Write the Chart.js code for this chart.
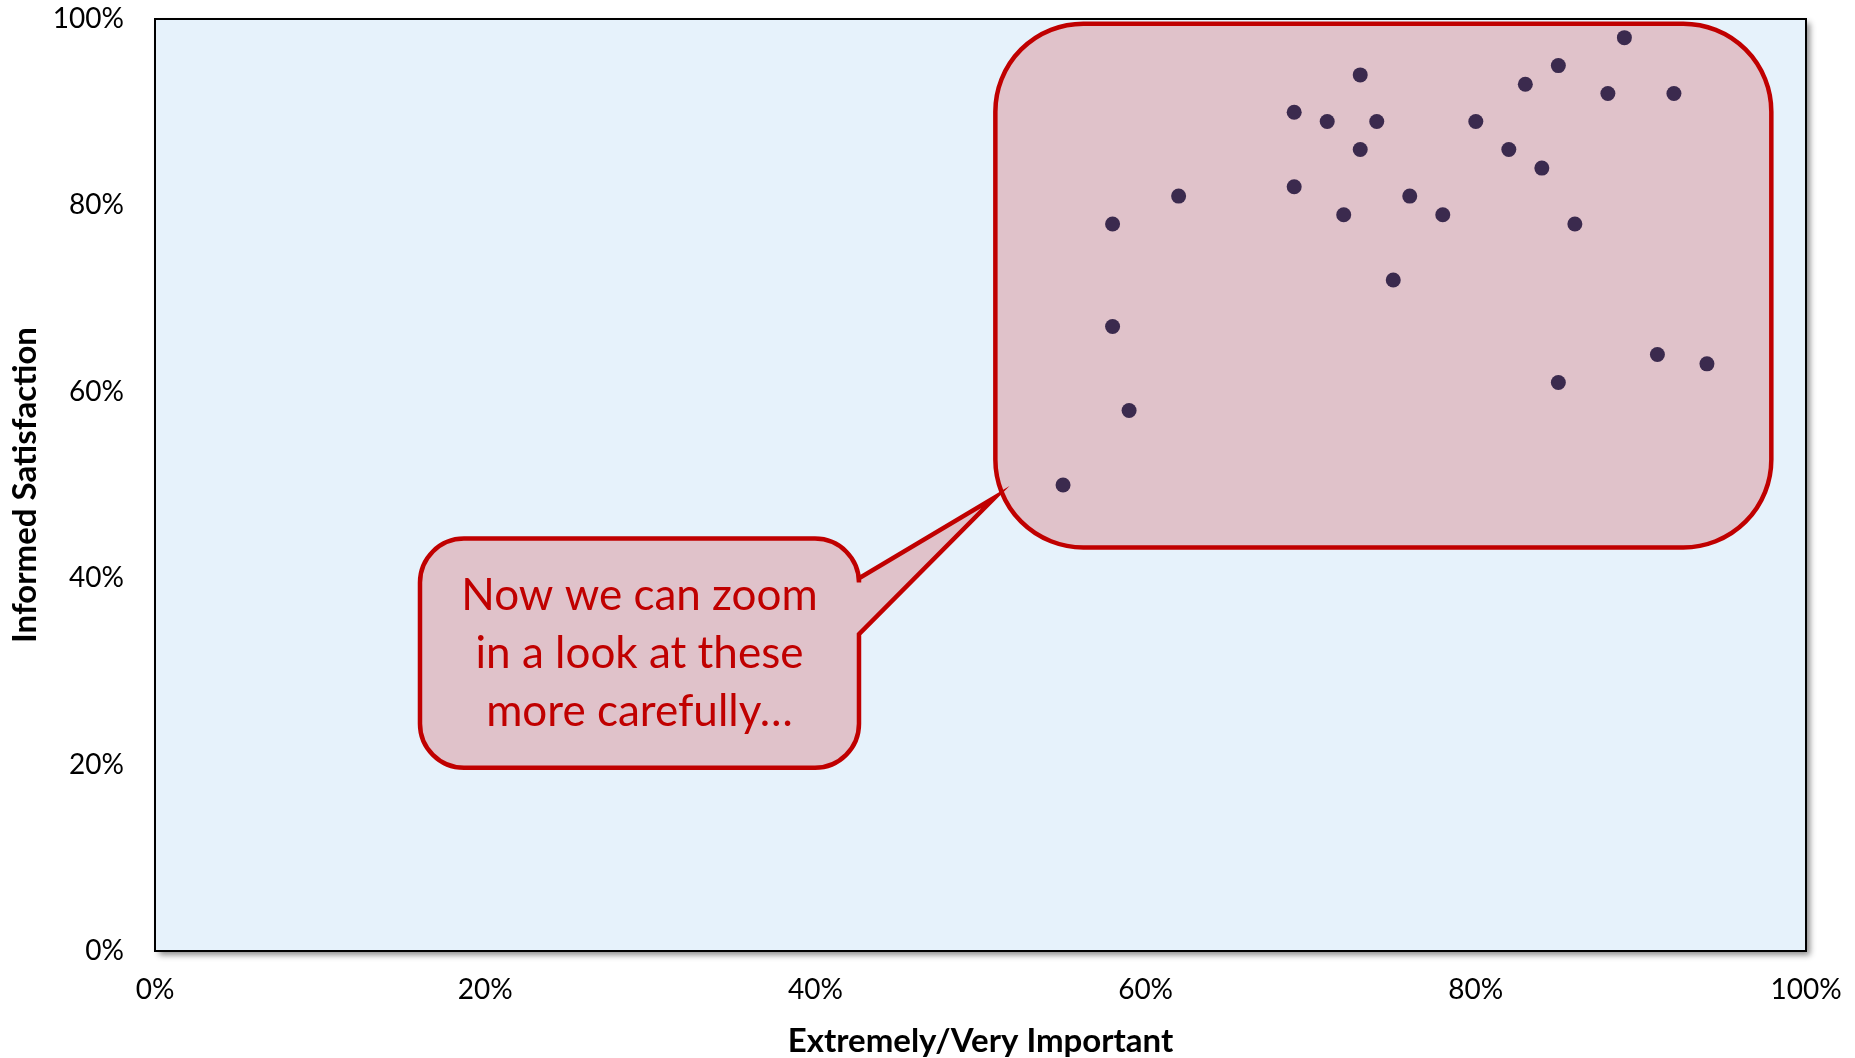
<!DOCTYPE html>
<html>
<head>
<meta charset="utf-8">
<script src="https://cdn.jsdelivr.net/npm/chart.js@4.4.0/dist/chart.umd.min.js"></script>
<style>
  html, body { margin: 0; padding: 0; background: #ffffff; }
  #wrap { width: 1855px; height: 1058px; }
</style>
</head>
<body>
<div id="wrap"><canvas id="chart" width="1855" height="1058"></canvas></div>
<script>
// values (percent)
const importance = [55, 58, 58, 59, 62, 69, 69, 71, 72, 73, 73, 74, 75, 76, 78, 80, 82, 83, 84, 85, 85, 86, 88, 89, 91, 92, 94];
const satisfaction = [50, 78, 67, 58, 81, 90, 82, 89, 79, 94, 86, 89, 72, 81, 79, 89, 86, 93, 84, 95, 61, 78, 92, 98, 64, 92, 63];
const xTicks = [0, 20, 40, 60, 80, 100];
const yTicks = [0, 20, 40, 60, 80, 100];
const calloutLines = ['Now we can zoom', 'in a look at these', 'more carefully\u2026'];

const FONT = 'Lato, "Open Sans", sans-serif';
const RED = '#c00000';
const PINK = '#e0c2ca';

// callout geometry, in axis units
const bigBox = { x0: 50.9, x1: 97.9, y0: 43.3, y1: 99.5, r: 88 };
const smallBox = { x0: 16.05, x1: 42.64, y0: 19.66, y1: 44.25, r: 44 };
const pointer = { top: 40.0, bottom: 34.0, tipX: 50.9, tipY: 48.7 };

const points = importance.map((x, i) => ({ x: x, y: satisfaction[i] }));

function roundRect(ctx, x0, y0, x1, y1, r) {
    ctx.moveTo(x0 + r, y0);
    ctx.lineTo(x1 - r, y0);
    ctx.arcTo(x1, y0, x1, y0 + r, r);
    ctx.lineTo(x1, y1 - r);
    ctx.arcTo(x1, y1, x1 - r, y1, r);
    ctx.lineTo(x0 + r, y1);
    ctx.arcTo(x0, y1, x0, y1 - r, r);
    ctx.lineTo(x0, y0 + r);
    ctx.arcTo(x0, y0, x0 + r, y0, r);
    ctx.closePath();
}

// keep the plot box where the layout padding puts it
function noLabelPadding(scale) {
    scale.paddingTop = 0;
    scale.paddingBottom = 0;
    scale.paddingLeft = 0;
    scale.paddingRight = 0;
}

const plotFrame = {
    id: 'plotFrame',
    beforeDatasetsDraw(chart) {
        const { ctx, chartArea: a, scales: { x, y } } = chart;
        ctx.save();
        // panel with shadow
        ctx.shadowColor = 'rgba(0,0,0,0.45)';
        ctx.shadowBlur = 6;
        ctx.shadowOffsetX = 4;
        ctx.shadowOffsetY = 4;
        ctx.fillStyle = '#e6f2fb';
        ctx.fillRect(a.left, a.top, a.right - a.left, a.bottom - a.top);
        ctx.restore();

        ctx.save();
        ctx.lineWidth = 2;
        ctx.strokeStyle = '#000000';
        ctx.strokeRect(a.left, a.top, a.right - a.left, a.bottom - a.top);

        // big highlight box
        ctx.beginPath();
        roundRect(ctx, x.getPixelForValue(bigBox.x0), y.getPixelForValue(bigBox.y1),
            x.getPixelForValue(bigBox.x1), y.getPixelForValue(bigBox.y0), bigBox.r);
        ctx.fillStyle = PINK;
        ctx.fill();
        ctx.lineWidth = 4.5;
        ctx.strokeStyle = RED;
        ctx.stroke();

        // speech bubble
        const sx0 = x.getPixelForValue(smallBox.x0), sx1 = x.getPixelForValue(smallBox.x1);
        const sy0 = y.getPixelForValue(smallBox.y1), sy1 = y.getPixelForValue(smallBox.y0);
        const r = smallBox.r;
        const pTop = y.getPixelForValue(pointer.top), pBot = y.getPixelForValue(pointer.bottom);
        ctx.beginPath();
        ctx.moveTo(sx0 + r, sy0);
        ctx.lineTo(sx1 - r, sy0);
        ctx.arcTo(sx1, sy0, sx1, sy0 + r, r);
        ctx.lineTo(sx1, pTop);
        ctx.lineTo(x.getPixelForValue(pointer.tipX), y.getPixelForValue(pointer.tipY));
        ctx.lineTo(sx1, pBot);
        ctx.lineTo(sx1, sy1 - r);
        ctx.arcTo(sx1, sy1, sx1 - r, sy1, r);
        ctx.lineTo(sx0 + r, sy1);
        ctx.arcTo(sx0, sy1, sx0, sy1 - r, r);
        ctx.lineTo(sx0, sy0 + r);
        ctx.arcTo(sx0, sy0, sx0 + r, sy0, r);
        ctx.closePath();
        ctx.fillStyle = PINK;
        ctx.fill();
        ctx.lineJoin = 'miter';
        ctx.lineWidth = 4.5;
        ctx.strokeStyle = RED;
        ctx.stroke();

        ctx.fillStyle = RED;
        ctx.font = '44px ' + FONT;
        ctx.textAlign = 'center';
        ctx.textBaseline = 'middle';
        const cx = (sx0 + sx1) / 2;
        const lineH = 58;
        const cy = (sy0 + sy1) / 2 - lineH + 1;
        calloutLines.forEach((t, i) => ctx.fillText(t, cx, cy + i * lineH));
        ctx.restore();
    }
};

new Chart(document.getElementById('chart').getContext('2d'), {
    type: 'scatter',
    data: {
        datasets: [{
            data: points,
            backgroundColor: '#3b2a4e',
            borderColor: '#3b2a4e',
            borderWidth: 0,
            pointRadius: 7.5,
            pointHoverRadius: 7.5
        }]
    },
    options: {
        responsive: false,
        animation: false,
        layout: { padding: { top: 19, right: 49, left: 0, bottom: 0 } },
        plugins: { legend: { display: false }, tooltip: { enabled: false } },
        scales: {
            x: {
                type: 'linear',
                min: 0,
                max: 100,
                afterFit(scale) { scale.height = 107; noLabelPadding(scale); },
                afterBuildTicks(scale) { scale.ticks = xTicks.map(v => ({ value: v })); },
                grid: { display: false, drawTicks: false },
                border: { display: false },
                ticks: {
                    padding: 22,
                    color: '#000000',
                    font: { family: FONT, size: 28 },
                    callback: v => v + '%'
                },
                title: {
                    display: true,
                    text: 'Extremely/Very Important',
                    color: '#000000',
                    font: { family: FONT, size: 33, weight: 'bold' },
                    padding: { top: 0, bottom: -3 }
                }
            },
            y: {
                type: 'linear',
                min: 0,
                max: 100,
                afterFit(scale) { scale.width = 155; noLabelPadding(scale); },
                afterBuildTicks(scale) { scale.ticks = yTicks.map(v => ({ value: v })); },
                grid: { display: false, drawTicks: false },
                border: { display: false },
                ticks: {
                    padding: 31,
                    color: '#000000',
                    font: { family: FONT, size: 28 },
                    callback: v => v + '%'
                },
                title: {
                    display: true,
                    text: 'Informed Satisfaction',
                    color: '#000000',
                    font: { family: FONT, size: 33, weight: 'bold' },
                    padding: { top: 6, bottom: 0 }
                }
            }
        }
    },
    plugins: [plotFrame]
});
</script>
</body>
</html>
